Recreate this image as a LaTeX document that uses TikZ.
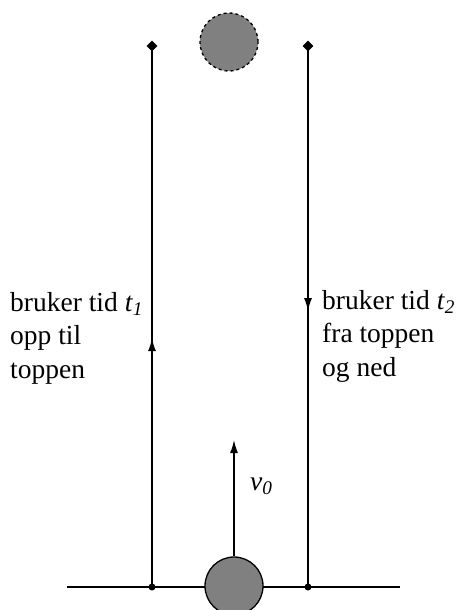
\documentclass[tikz,border=0pt]{standalone}
\usepackage{fontspec}
\setmainfont{Liberation Serif}
\usetikzlibrary{arrows.meta,decorations.markings,shapes.geometric}
\tikzset{
  ballshape/.style={circle,draw=black,fill=black!50,line width=1.3pt,minimum size=58pt,inner sep=0pt},
  diam/.style={diamond,fill=black,inner sep=0pt,minimum size=11pt},
  gdot/.style={circle,fill=black,inner sep=0pt,minimum size=7pt},
  pathline/.style={line width=1.5pt},
  lbl/.style={font=\fontsize{27.5}{33.5}\selectfont,align=left,inner sep=0pt},
  tip/.style={-{Latex[length=13pt,width=8pt]}},
  midup/.style={postaction={decorate},decoration={markings,mark=at position #1 with {\arrow{Latex[length=13pt,width=8pt]}}}}
}
\begin{document}
\begin{tikzpicture}[x=1pt,y=-1pt]
\useasboundingbox (0,0) rectangle (456,610);
\clip (0,0) rectangle (456,610);
% ground
\coordinate (gl) at (67,587);
\coordinate (gr) at (400,587);
\draw[line width=1.8pt] (gl) -- (gr);
% dots
\node[diam] (tl) at (152,46) {};
\node[diam] (tr) at (308,46) {};
\node[gdot] (bl) at (152,587) {};
\node[gdot] (br) at (308,587) {};
% vertical paths
\draw[pathline,midup=0.46] (bl.center) -- (tl.center);
\draw[pathline,midup=0.49] (tr.center) -- (br.center);
% balls
\node[ballshape,dashed] (topball) at (229,42) {};
\node[ballshape] (ball) at (234,586) {};
% v0 arrow
\coordinate (v0end) at (234,440);
\draw[pathline,tip] (ball.north) -- (v0end);
\node[lbl,anchor=base west] (v0) at (250,490) {\textit{v}\textsubscript{\textit{0}}};
% labels
\node[lbl,anchor=north west] (left) at (10,292) {bruker tid \textit{t}\textsubscript{\textit{1}}\\opp til\\toppen};
\node[lbl,anchor=north west] (right) at (322,290) {bruker tid \textit{t}\textsubscript{\textit{2}}\\fra toppen\\og ned};
\end{tikzpicture}
\end{document}
